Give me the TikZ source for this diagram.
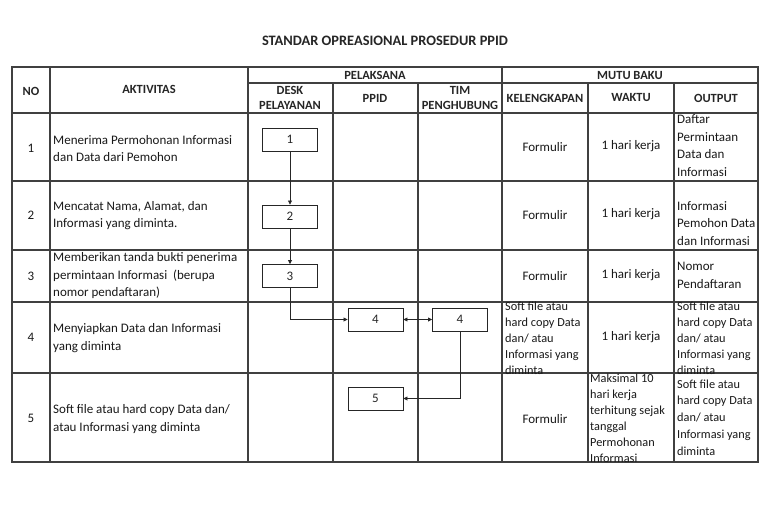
\documentclass[tikz,border=0pt]{standalone}
\usepackage{fontspec}
\setmainfont{Carlito}
\usetikzlibrary{arrows.meta,positioning}

\tikzset{
  grid/.style={line width=1.1pt,black!75},
  hd/.style={font=\bfseries\fontsize{12.5}{14.5}\selectfont,align=center,inner sep=0,text=black!85},
  txt/.style={font=\fontsize{13}{17.5}\selectfont,align=left,anchor=west,inner sep=0,text=black!90},
  sml/.style={font=\fontsize{12.3}{16}\selectfont,align=left,anchor=west,inner sep=0,text=black!90},
  ctr/.style={font=\fontsize{13}{17.5}\selectfont,inner sep=0,text=black!90},
  stepbox/.style={draw,line width=0.9pt,black!85,minimum width=55pt,minimum height=23pt,inner sep=0,font=\fontsize{13}{15}\selectfont},
  flow/.style={line width=0.7pt,black!85,-{Triangle[length=4pt,width=4pt]}},
}

\begin{document}
\begin{tikzpicture}[x=1pt,y=-1pt]
\useasboundingbox[fill=white] (0,0) rectangle (775,512);

\node[font=\bfseries\fontsize{14.4}{16}\selectfont,text=black!85] (title) at (385,41) {STANDAR OPREASIONAL PROSEDUR PPID};

% table lines
\draw[grid] (12,67) rectangle (758,462);
\draw[grid] (248,83) -- (758,83);
\foreach \y in {113,181,250,302,373} \draw[grid] (12,\y) -- (758,\y);
\foreach \x in {50,248,502} \draw[grid] (\x,67) -- (\x,462);
\foreach \x in {333,418,588,674} \draw[grid] (\x,83) -- (\x,462);

% header
\node[hd] (hno) at (31,91) {NO};
\node[hd] (hakt) at (149,89) {AKTIVITAS};
\node[hd] (hpel) at (375,75) {PELAKSANA};
\node[hd] (hmutu) at (630,75) {MUTU BAKU};
\node[hd] (hdesk) at (290,98) {DESK\\PELAYANAN};
\node[hd] (hppid) at (375,98) {PPID};
\node[hd] (htim) at (460,98) {TIM\\PENGHUBUNG};
\node[hd] (hkel) at (545,98) {KELENGKAPAN};
\node[hd] (hwak) at (631,97) {WAKTU};
\node[hd] (hout) at (716,98) {OUTPUT};

% nomor
\node[ctr] (n1) at (31,148) {1};
\node[ctr] (n2) at (31,215) {2};
\node[ctr] (n3) at (31,276) {3};
\node[ctr] (n4) at (31,337) {4};
\node[ctr] (n5) at (31,418) {5};

% aktivitas
\node[txt] (a1) at (53,148.5) {Menerima Permohonan Informasi\\dan Data dari Pemohon};
\node[txt] (a2) at (53,215.5) {Mencatat Nama, Alamat, dan\\Informasi yang diminta.};
\node[txt] (a3) at (53,276) {Memberikan tanda bukti penerima\\permintaan Informasi~ (berupa\\nomor pendaftaran)};
\node[txt] (a4) at (53,338) {Menyiapkan Data dan Informasi\\yang diminta};
\node[txt] (a5) at (53,419) {Soft file atau hard copy Data dan/\\atau Informasi yang diminta};

% kelengkapan
\node[ctr] (k1) at (545,147) {Formulir};
\node[ctr] (k2) at (545,215) {Formulir};
\node[ctr] (k3) at (545,276) {Formulir};
\node[sml] (k4) at (505,338.5) {Soft file atau\\hard copy Data\\dan/ atau\\Informasi yang\\diminta};
\node[ctr] (k5) at (545,419) {Formulir};

% waktu
\node[ctr] (w1) at (631,146) {1 hari kerja};
\node[ctr] (w2) at (631,214) {1 hari kerja};
\node[ctr] (w3) at (631,275) {1 hari kerja};
\node[ctr] (w4) at (631,337) {1 hari kerja};
\node[sml] (w5) at (590,418.5) {Maksimal 10\\hari kerja\\terhitung sejak\\tanggal\\Permohonan\\Informasi};

% output
\node[txt] (o1) at (677,145.5) {Daftar\\Permintaan\\Data dan\\Informasi};
\node[txt] (o2) at (677,223.5) {Informasi\\Pemohon Data\\dan Informasi};
\node[txt] (o3) at (677,275.5) {Nomor\\Pendaftaran};
\node[sml] (o4) at (677,338.5) {Soft file atau\\hard copy Data\\dan/ atau\\Informasi yang\\diminta};
\node[sml,font=\fontsize{12.3}{16.75}\selectfont] (o5) at (677,417.5) {Soft file atau\\hard copy Data\\dan/ atau\\Informasi yang\\diminta};

% alur
\node[stepbox] (b1) at (290,139.5) {1};
\node[stepbox] (b2) at (290,216.5) {2};
\node[stepbox] (b3) at (290,276) {3};
\node[stepbox] (b4p) at (375.5,319.5) {4};
\node[stepbox] (b4t) at (460,319.5) {4};
\node[stepbox] (b5) at (375.5,398.5) {5};

\draw[flow] (b1) -- (b2);
\draw[flow] (b2) -- (b3);
\draw[flow] (b3.south) |- (b4p.west);
\draw[flow,{Triangle[length=4pt,width=4pt]}-{Triangle[length=4pt,width=4pt]}] (b4p) -- (b4t);
\draw[flow] (b4t.south) |- (b5.east);
\end{tikzpicture}
\end{document}
